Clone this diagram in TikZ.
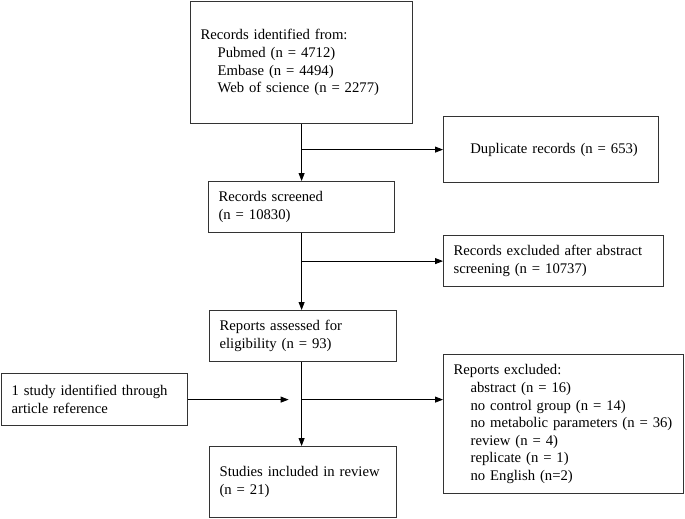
\documentclass[tikz,border=0pt]{standalone}
\usepackage{fontspec}
\setmainfont{Liberation Serif}
\usetikzlibrary{arrows.meta}

\begin{document}
\begin{tikzpicture}[x=1pt, y=-1pt, thin,
                    every node/.style={font=\fontsize{14.7pt}{17.6pt}\selectfont},
                    box node/.style={rectangle,draw=black!80,line width=1.2pt,anchor=north west,
                                     inner xsep=10pt,inner ysep=0pt,align=left},
                    flow/.style={line width=0.8pt,-{Triangle[length=8pt,width=6pt]}}]

  \useasboundingbox (0,0) rectangle (685,519);

   \node[box node,text width=202pt,minimum height=122pt] (ident) at (190,1)
        {Records identified from:\\\hspace*{17pt}Pubmed (n = 4712)\\\hspace*{17pt}Embase (n = 4494)\\\hspace*{17pt}Web of science (n = 2277)};
  \node[box node,text width=195pt,minimum height=66pt,align=center] (dup) at (443,116)
        {\hspace*{6pt}Duplicate records (n = 653)};
    \node[box node,text width=166pt,minimum height=51pt] (screen) at (208,181)
        {Records screened\\(n = 10830)};
      \node[box node,text width=200pt,minimum height=51pt] (absex) at (443,235)
        {Records excluded after abstract\\screening (n = 10737)};
        \node[box node,text width=167pt,minimum height=51pt] (assess) at (209,310)
        {Reports assessed for\\eligibility (n = 93)};
          \node[box node,text width=166pt,minimum height=52pt] (ref) at (1,373)
        {1 study identified through\\article reference};
            \node[box node,text width=220pt,minimum height=139pt] (repex) at (443,354)
        {Reports excluded:\\\hspace*{17pt}abstract (n = 16)\\\hspace*{17pt}no control group (n = 14)\\\hspace*{17pt}no metabolic parameters (n = 36)\\\hspace*{17pt}review (n = 4)\\\hspace*{17pt}replicate (n = 1)\\\hspace*{17pt}no English (n=2)};
              \node[box node,text width=167pt,minimum height=71pt] (incl) at (209,446)
        {Studies included in review\\(n = 21)};

  \coordinate (b1) at (ident.south |- dup.west);
  \coordinate (b2) at (ident.south |- absex.west);
  \coordinate (join) at (ident.south |- ref.east);

   \draw[flow] (ident.south) -- (ident.south |- screen.north);
   \draw[flow] (b1) -- (dup.west);
   \draw[flow] (ident.south |- screen.south) -- (ident.south |- assess.north);
   \draw[flow] (b2) -- (absex.west);
   \draw[flow] (ident.south |- assess.south) -- (ident.south |- incl.north);
   \draw[flow,shorten >=13pt] (ref.east) -- (join);
   \draw[flow] (join) -- (join -| repex.west);

\end{tikzpicture}
\end{document}
